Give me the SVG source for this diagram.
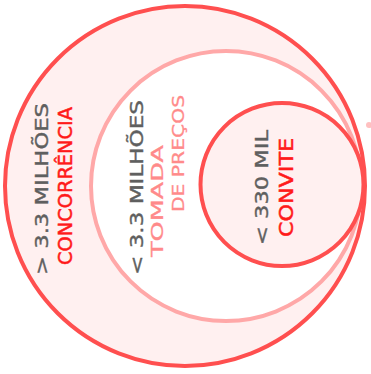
<svg xmlns="http://www.w3.org/2000/svg" width="371" height="374" viewBox="0 0 371 374">
<style>
.t{font-family:"DejaVu Sans","Liberation Sans",sans-serif;text-anchor:middle}
.gray{fill:#5f5f5f;font-size:17px;stroke:#5f5f5f;stroke-width:0.4}
.red{fill:#ff1a1a;font-size:19px;stroke:#ff1a1a;stroke-width:0.5}
.pink{fill:#ff8a8a;font-size:16px;stroke:#ff8a8a;stroke-width:0.3}
.c-red{stroke:#ff4f4f;stroke-width:4}
.c-pink{stroke:#ffa8a8;stroke-width:4}
</style>
<rect width="371" height="374" fill="#ffffff"/>
<g id="concorrencia">
<circle cx="185" cy="186" r="180" fill="#fff0f0" class="c-red"/>
<text class="t gray" transform="translate(48,189) rotate(-90)" textLength="172" lengthAdjust="spacingAndGlyphs">&gt; 3.3 MILHÕES</text>
<text class="t red" transform="translate(72,186) rotate(-90)" textLength="158" lengthAdjust="spacingAndGlyphs">CONCORRÊNCIA</text>
</g>
<g id="tomada-de-precos">
<circle cx="226" cy="186" r="135" fill="#ffffff" class="c-pink"/>
<text class="t gray" transform="translate(143,187.5) rotate(-90)" textLength="175" lengthAdjust="spacingAndGlyphs">&lt; 3.3 MILHÕES</text>
<text class="t pink" transform="translate(163,201) rotate(-90)" textLength="112" lengthAdjust="spacingAndGlyphs">TOMADA</text>
<text class="t pink" transform="translate(184,153.5) rotate(-90)" textLength="117" lengthAdjust="spacingAndGlyphs">DE PREÇOS</text>
</g>
<g id="convite">
<circle cx="282" cy="184.5" r="81.5" fill="#fff0f0" class="c-red"/>
<text class="t gray" transform="translate(268,187.5) rotate(-90)" textLength="115" lengthAdjust="spacingAndGlyphs">&lt; 330 MIL</text>
<text class="t red" transform="translate(293,187.5) rotate(-90)" textLength="99" lengthAdjust="spacingAndGlyphs">CONVITE</text>
</g>
<g id="connectors"></g>
<circle cx="369" cy="125" r="3" fill="#ffc0c0"/>
</svg>
